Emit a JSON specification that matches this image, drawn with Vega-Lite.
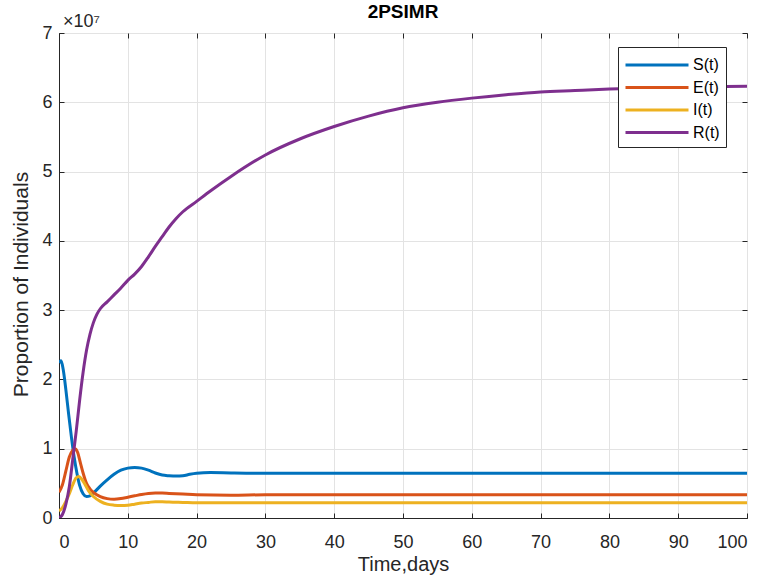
{
  "$schema": "https://vega.github.io/schema/vega-lite/v6.json",
  "width": 688,
  "height": 485,
  "autosize": {"type": "none"},
  "padding": {"left": 59, "top": 33, "right": 21, "bottom": 62},
  "background": "white",
  "title": {"text": "2PSIMR", "fontSize": 19, "fontWeight": "bold", "font": "Liberation Sans", "color": "#000000", "offset": -9, "anchor": "middle"},
  "config": {
    "view": {"stroke": "#262626", "strokeWidth": 1},
    "font": "Liberation Sans",
    "axis": {"domainColor": "#262626", "tickColor": "#262626", "labelColor": "#262626", "titleColor": "#262626", "gridColor": "#e3e3e3", "labelFont": "Liberation Sans", "titleFont": "Liberation Sans", "titleFontWeight": "normal"}
  },
  "resolve": {"axis": {"x": "independent", "y": "independent"}},
  "datasets": {
    "curves": [
      {"t": 0, "series": "S(t)", "v": 2.24e7},
      {"t": 0.3, "series": "S(t)", "v": 2.27e7},
      {"t": 0.6, "series": "S(t)", "v": 2.15e7},
      {"t": 1.0, "series": "S(t)", "v": 1.85e7},
      {"t": 1.4, "series": "S(t)", "v": 1.5e7},
      {"t": 1.8, "series": "S(t)", "v": 1.17e7},
      {"t": 2.2, "series": "S(t)", "v": 0.88e7},
      {"t": 2.6, "series": "S(t)", "v": 0.65e7},
      {"t": 3.0, "series": "S(t)", "v": 0.47e7},
      {"t": 3.5, "series": "S(t)", "v": 0.35e7},
      {"t": 4.0, "series": "S(t)", "v": 0.31e7},
      {"t": 4.5, "series": "S(t)", "v": 0.32e7},
      {"t": 5, "series": "S(t)", "v": 0.36e7},
      {"t": 6, "series": "S(t)", "v": 0.46e7},
      {"t": 7, "series": "S(t)", "v": 0.55e7},
      {"t": 8, "series": "S(t)", "v": 0.63e7},
      {"t": 9, "series": "S(t)", "v": 0.69e7},
      {"t": 10, "series": "S(t)", "v": 0.72e7},
      {"t": 11, "series": "S(t)", "v": 0.73e7},
      {"t": 12, "series": "S(t)", "v": 0.72e7},
      {"t": 13, "series": "S(t)", "v": 0.69e7},
      {"t": 14, "series": "S(t)", "v": 0.65e7},
      {"t": 15, "series": "S(t)", "v": 0.62e7},
      {"t": 16, "series": "S(t)", "v": 0.61e7},
      {"t": 17, "series": "S(t)", "v": 0.605e7},
      {"t": 18, "series": "S(t)", "v": 0.61e7},
      {"t": 19, "series": "S(t)", "v": 0.63e7},
      {"t": 20, "series": "S(t)", "v": 0.645e7},
      {"t": 22, "series": "S(t)", "v": 0.655e7},
      {"t": 25, "series": "S(t)", "v": 0.65e7},
      {"t": 30, "series": "S(t)", "v": 0.645e7},
      {"t": 40, "series": "S(t)", "v": 0.645e7},
      {"t": 60, "series": "S(t)", "v": 0.645e7},
      {"t": 80, "series": "S(t)", "v": 0.645e7},
      {"t": 100, "series": "S(t)", "v": 0.645e7},

      {"t": 0, "series": "E(t)", "v": 0.37e7},
      {"t": 0.5, "series": "E(t)", "v": 0.48e7},
      {"t": 1.0, "series": "E(t)", "v": 0.68e7},
      {"t": 1.5, "series": "E(t)", "v": 0.88e7},
      {"t": 2.0, "series": "E(t)", "v": 0.98e7},
      {"t": 2.3, "series": "E(t)", "v": 1.0e7},
      {"t": 2.7, "series": "E(t)", "v": 0.95e7},
      {"t": 3.1, "series": "E(t)", "v": 0.8e7},
      {"t": 3.5, "series": "E(t)", "v": 0.65e7},
      {"t": 4.0, "series": "E(t)", "v": 0.5e7},
      {"t": 4.5, "series": "E(t)", "v": 0.42e7},
      {"t": 5, "series": "E(t)", "v": 0.37e7},
      {"t": 6, "series": "E(t)", "v": 0.31e7},
      {"t": 7, "series": "E(t)", "v": 0.28e7},
      {"t": 8, "series": "E(t)", "v": 0.27e7},
      {"t": 9, "series": "E(t)", "v": 0.28e7},
      {"t": 10, "series": "E(t)", "v": 0.3e7},
      {"t": 11, "series": "E(t)", "v": 0.32e7},
      {"t": 12, "series": "E(t)", "v": 0.34e7},
      {"t": 13, "series": "E(t)", "v": 0.355e7},
      {"t": 14, "series": "E(t)", "v": 0.36e7},
      {"t": 15, "series": "E(t)", "v": 0.36e7},
      {"t": 16, "series": "E(t)", "v": 0.355e7},
      {"t": 18, "series": "E(t)", "v": 0.345e7},
      {"t": 20, "series": "E(t)", "v": 0.335e7},
      {"t": 25, "series": "E(t)", "v": 0.33e7},
      {"t": 30, "series": "E(t)", "v": 0.335e7},
      {"t": 50, "series": "E(t)", "v": 0.335e7},
      {"t": 75, "series": "E(t)", "v": 0.335e7},
      {"t": 100, "series": "E(t)", "v": 0.335e7},

      {"t": 0, "series": "I(t)", "v": 0.1e7},
      {"t": 0.5, "series": "I(t)", "v": 0.15e7},
      {"t": 1.0, "series": "I(t)", "v": 0.24e7},
      {"t": 1.5, "series": "I(t)", "v": 0.35e7},
      {"t": 2.0, "series": "I(t)", "v": 0.48e7},
      {"t": 2.5, "series": "I(t)", "v": 0.58e7},
      {"t": 2.9, "series": "I(t)", "v": 0.6e7},
      {"t": 3.3, "series": "I(t)", "v": 0.56e7},
      {"t": 3.8, "series": "I(t)", "v": 0.48e7},
      {"t": 4.3, "series": "I(t)", "v": 0.39e7},
      {"t": 5, "series": "I(t)", "v": 0.31e7},
      {"t": 6, "series": "I(t)", "v": 0.24e7},
      {"t": 7, "series": "I(t)", "v": 0.2e7},
      {"t": 8, "series": "I(t)", "v": 0.185e7},
      {"t": 9, "series": "I(t)", "v": 0.18e7},
      {"t": 10, "series": "I(t)", "v": 0.185e7},
      {"t": 11, "series": "I(t)", "v": 0.2e7},
      {"t": 12, "series": "I(t)", "v": 0.215e7},
      {"t": 13, "series": "I(t)", "v": 0.225e7},
      {"t": 14, "series": "I(t)", "v": 0.235e7},
      {"t": 15, "series": "I(t)", "v": 0.235e7},
      {"t": 16, "series": "I(t)", "v": 0.23e7},
      {"t": 18, "series": "I(t)", "v": 0.225e7},
      {"t": 20, "series": "I(t)", "v": 0.22e7},
      {"t": 30, "series": "I(t)", "v": 0.22e7},
      {"t": 50, "series": "I(t)", "v": 0.22e7},
      {"t": 75, "series": "I(t)", "v": 0.22e7},
      {"t": 100, "series": "I(t)", "v": 0.22e7},

      {"t": 0, "series": "R(t)", "v": 0},
      {"t": 0.5, "series": "R(t)", "v": 0.05e7},
      {"t": 1.0, "series": "R(t)", "v": 0.2e7},
      {"t": 1.5, "series": "R(t)", "v": 0.45e7},
      {"t": 2.0, "series": "R(t)", "v": 0.85e7},
      {"t": 2.5, "series": "R(t)", "v": 1.25e7},
      {"t": 3.0, "series": "R(t)", "v": 1.7e7},
      {"t": 3.5, "series": "R(t)", "v": 2.1e7},
      {"t": 4.0, "series": "R(t)", "v": 2.42e7},
      {"t": 4.5, "series": "R(t)", "v": 2.65e7},
      {"t": 5.0, "series": "R(t)", "v": 2.82e7},
      {"t": 5.5, "series": "R(t)", "v": 2.94e7},
      {"t": 6, "series": "R(t)", "v": 3.02e7},
      {"t": 7, "series": "R(t)", "v": 3.12e7},
      {"t": 8, "series": "R(t)", "v": 3.22e7},
      {"t": 9, "series": "R(t)", "v": 3.32e7},
      {"t": 10, "series": "R(t)", "v": 3.43e7},
      {"t": 11, "series": "R(t)", "v": 3.52e7},
      {"t": 12, "series": "R(t)", "v": 3.63e7},
      {"t": 13, "series": "R(t)", "v": 3.77e7},
      {"t": 14, "series": "R(t)", "v": 3.92e7},
      {"t": 15, "series": "R(t)", "v": 4.06e7},
      {"t": 16, "series": "R(t)", "v": 4.2e7},
      {"t": 17, "series": "R(t)", "v": 4.32e7},
      {"t": 18, "series": "R(t)", "v": 4.42e7},
      {"t": 20, "series": "R(t)", "v": 4.57e7},
      {"t": 22, "series": "R(t)", "v": 4.72e7},
      {"t": 25, "series": "R(t)", "v": 4.93e7},
      {"t": 30, "series": "R(t)", "v": 5.24e7},
      {"t": 35, "series": "R(t)", "v": 5.47e7},
      {"t": 40, "series": "R(t)", "v": 5.65e7},
      {"t": 45, "series": "R(t)", "v": 5.8e7},
      {"t": 50, "series": "R(t)", "v": 5.92e7},
      {"t": 55, "series": "R(t)", "v": 6.0e7},
      {"t": 60, "series": "R(t)", "v": 6.06e7},
      {"t": 65, "series": "R(t)", "v": 6.11e7},
      {"t": 70, "series": "R(t)", "v": 6.15e7},
      {"t": 75, "series": "R(t)", "v": 6.17e7},
      {"t": 80, "series": "R(t)", "v": 6.19e7},
      {"t": 90, "series": "R(t)", "v": 6.22e7},
      {"t": 100, "series": "R(t)", "v": 6.23e7}
    ],
    "multiplier": [{"t": 0, "v": 7e7, "label": "×10⁷"}]
  },
  "layer": [
    {
      "data": {"name": "curves"},
      "mark": {"type": "line", "strokeWidth": 3, "interpolate": "monotone", "clip": true},
      "encoding": {
        "x": {"field": "t", "type": "quantitative", "scale": {"domain": [0, 100], "nice": false},
          "axis": {"orient": "bottom", "values": [0,10,20,30,40,50,60,70,80,90,100], "title": "Time,days", "titleFontSize": 20, "labelFontSize": 18, "tickSize": -5, "labelPadding": 20, "titlePadding": 3, "grid": true}},
        "y": {"field": "v", "type": "quantitative", "scale": {"domain": [0, 7e7], "nice": false},
          "axis": {"orient": "left", "values": [0,1e7,2e7,3e7,4e7,5e7,6e7,7e7], "labelExpr": "datum.value / 1e7", "title": "Proportion of Individuals", "titleFontSize": 21, "titleY": 251, "labelFontSize": 18, "tickSize": -5, "labelPadding": 12, "titlePadding": 10, "grid": true}},
        "color": {"field": "series", "type": "nominal",
          "scale": {"domain": ["S(t)", "E(t)", "I(t)", "R(t)"], "range": ["#0072BD", "#D95319", "#EDB120", "#7E2F8E"]},
          "legend": {"title": null, "orient": "none", "legendX": 559, "legendY": 14, "strokeColor": "#262626", "fillColor": "white", "padding": 6, "rowPadding": 2.5, "labelFontSize": 16, "labelColor": "#000000", "symbolType": "M-1,0H5", "symbolStrokeWidth": 3, "symbolSize": 441, "labelOffset": 45}}
      }
    },
    {
      "data": {"name": "multiplier"},
      "mark": {"type": "text", "align": "left", "baseline": "bottom", "dx": 4, "dy": -2, "fontSize": 18, "color": "#262626"},
      "encoding": {
        "x": {"field": "t", "type": "quantitative", "axis": {"orient": "top", "values": [0,10,20,30,40,50,60,70,80,90,100], "labels": false, "title": null, "grid": false, "domain": false, "tickSize": -5}},
        "y": {"field": "v", "type": "quantitative", "axis": {"orient": "right", "values": [0,1e7,2e7,3e7,4e7,5e7,6e7,7e7], "labels": false, "title": null, "grid": false, "domain": false, "tickSize": -5}},
        "text": {"field": "label"}
      }
    }
  ]
}
